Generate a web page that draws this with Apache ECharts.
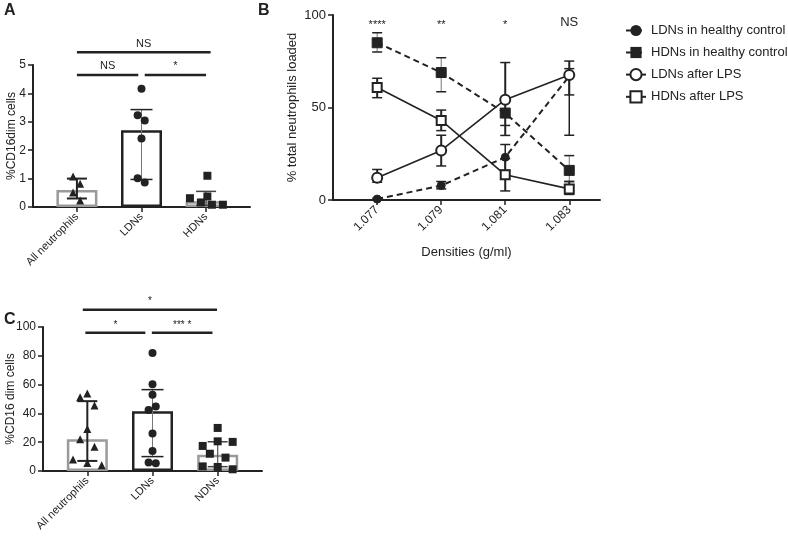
<!DOCTYPE html>
<html><head><meta charset="utf-8">
<script src="https://cdn.jsdelivr.net/npm/echarts@6/dist/echarts.min.js"></script>
<style>html,body{margin:0;padding:0;background:#fff}#c{width:788px;height:538px}</style>
</head><body><div id="c"></div>
<script>
// ---------- Panel A ----------
const aCategories = ['All neutrophils', 'LDNs', 'HDNs'];
const aBars = [0.6, 2.7, 0.2];
const aErrLow = [0.3, 0.97, 0.06];
const aErrHigh = [1.0, 3.43, 0.55];
const aAllOffsets = [-0.06, 0.05, -0.06, 0.05];
const aAllValues = [1.07, 0.82, 0.51, 0.23];
const aLdnOffsets = [0, -0.06, 0.05, 0, -0.06, 0.05];
const aLdnValues = [4.16, 3.23, 3.05, 2.41, 1.01, 0.86];
const aHdnOffsets = [-0.25, -0.08, 0.02, 0.02, 0.09, 0.26];
const aHdnValues = [0.31, 0.16, 0.37, 1.1, 0.08, 0.08];
const aSigFrom = [0, 0, 1.05];
const aSigTo = [2.07, 0.95, 2.0];
const aSigLevel = [5.45, 4.65, 4.65];
const aSigText = ['NS', 'NS', '*'];

// ---------- Panel B ----------
const bDensities = ['1.077', '1.079', '1.081', '1.083'];
const bLdnHealthy = [0.5, 7.8, 23.1, 67];
const bLdnHealthyLow = [0, 6, 16, 35];
const bLdnHealthyHigh = [1, 10, 30, 71];
const bHdnHealthy = [85, 68.9, 47, 16];
const bHdnHealthyLow = [80, 58.5, 40.3, 10];
const bHdnHealthyHigh = [90.4, 76.9, 53.7, 24];
const bLdnLps = [12, 26.8, 54.2, 67.6];
const bLdnLpsLow = [9.6, 18.4, 34.9, 56.8];
const bLdnLpsHigh = [16.5, 35, 74.3, 75.1];
const bHdnLps = [60.8, 43, 13.6, 6];
const bHdnLpsLow = [55.3, 37.5, 4.9, 3];
const bHdnLpsHigh = [65.8, 48.6, 22.3, 10];
const bSigText = ['****', '**', '*', 'NS'];
const bSeriesNames = ['LDNs in healthy control', 'HDNs in healthy control', 'LDNs after LPS', 'HDNs after LPS'];

// ---------- Panel C ----------
const cCategories = ['All neutrophils', 'LDNs', 'NDNs'];
const cBars = [22, 41.5, 11.2];
const cErrLow = [7, 10, 3];
const cErrHigh = [48.5, 56.5, 20.3];
const cAllOffsets = [-0.11, 0, 0.11, 0, -0.11, 0.11, -0.22, 0, 0.22];
const cAllValues = [51.3, 53.9, 45.5, 29.1, 22.1, 16.8, 8.0, 5.5, 4.0];
const cLdnOffsets = [0, 0, 0, 0.05, -0.06, 0, 0, -0.06, 0.05];
const cLdnValues = [81.9, 60.3, 52.9, 44.8, 42.3, 26, 13.9, 5.9, 5.3];
const cNdnOffsets = [0, 0, 0.23, -0.23, -0.12, 0.12, -0.23, 0, 0.23];
const cNdnValues = [29.9, 20.6, 20.2, 17.4, 12, 9.3, 3.2, 2.8, 1.2];
const cSigFrom = [-0.07, -0.03, 0.99];
const cSigTo = [1.99, 0.89, 1.92];
const cSigLevel = [112, 96, 96];
const cSigText = ['*', '*', '*** *'];

const FONT = '"Liberation Sans", Arial, sans-serif';
const INK = '#222';
const GREY = '#9a9a9a';

function pts(cat, offsets, values) { return values.map((v, i) => [cat + offsets[i], v]); }

function errSeries(gi, items, capHalf, color, width, capColor, capWidth) {
  return {
    type: 'custom', xAxisIndex: gi, yAxisIndex: gi, clip: false, silent: true, z: 3,
    encode: { x: 0, y: [1, 2] },
    data: items,
    renderItem(params, api) {
      const x = api.value(0), lo = api.value(1), hi = api.value(2);
      const p1 = api.coord([x, lo]), p2 = api.coord([x, hi]);
      return { type: 'group', children: [
        { type: 'line', shape: { x1: p1[0], y1: p1[1], x2: p2[0], y2: p2[1] }, style: { stroke: color, lineWidth: width } },
        { type: 'line', shape: { x1: p1[0] - capHalf, y1: p1[1], x2: p1[0] + capHalf, y2: p1[1] }, style: { stroke: capColor, lineWidth: capWidth } },
        { type: 'line', shape: { x1: p2[0] - capHalf, y1: p2[1], x2: p2[0] + capHalf, y2: p2[1] }, style: { stroke: capColor, lineWidth: capWidth } }
      ] };
    }
  };
}

function sigSeries(gi, from, to, level, texts, fontSize) {
  return {
    type: 'custom', xAxisIndex: gi, yAxisIndex: gi, clip: false, silent: true, z: 5,
    data: from.map((f, i) => [f, to[i], level[i]]),
    renderItem(params, api) {
      const a = api.coord([api.value(0), api.value(2)]);
      const b = api.coord([api.value(1), api.value(2)]);
      return { type: 'group', children: [
        { type: 'line', shape: { x1: a[0], y1: a[1], x2: b[0], y2: a[1] }, style: { stroke: INK, lineWidth: 2.5 } },
        { type: 'text', style: { text: texts[params.dataIndex], x: (a[0] + b[0]) / 2, y: a[1] - 3, align: 'center', verticalAlign: 'bottom', fontSize: fontSize, fontFamily: FONT, fill: INK } }
      ] };
    }
  };
}

function barSeries(gi, values, colors, width) {
  return {
    type: 'bar', xAxisIndex: gi, yAxisIndex: gi, barWidth: width, silent: true, z: 1,
    data: values.map((v, i) => ({ value: [i, v], itemStyle: { color: '#fff', borderColor: colors[i], borderWidth: 2.5 } }))
  };
}

function scatterSeries(gi, data, symbol, size) {
  return { type: 'scatter', xAxisIndex: gi, yAxisIndex: gi, symbol: symbol, symbolSize: size, silent: true, z: 4,
    itemStyle: { color: INK, opacity: 1 }, data: data };
}

function catXAxis(gi, cats, min, max, fontSize) {
  const vals = cats.map((c, i) => i);
  return {
    gridIndex: gi, type: 'value', min: min, max: max, splitLine: { show: false },
    axisLine: { show: true, onZero: false, lineStyle: { color: INK, width: 2 } },
    axisTick: { show: true, customValues: vals, length: 5, lineStyle: { color: INK, width: 1.5 } },
    axisLabel: { customValues: vals, formatter: v => cats[Math.round(v)], rotate: 45, fontSize: fontSize, color: INK, fontFamily: FONT, margin: 8 }
  };
}

function valYAxis(gi, min, max, interval, name, nameGap, fontSize) {
  return {
    gridIndex: gi, type: 'value', min: min, max: max, interval: interval, splitLine: { show: false },
    name: name, nameLocation: 'middle', nameGap: nameGap, nameMoveOverlap: false,
    nameTextStyle: { fontSize: fontSize, color: INK, fontFamily: FONT },
    axisLine: { show: true, onZero: false, lineStyle: { color: INK, width: 2 } },
    axisTick: { show: true, inside: false, length: 5, lineStyle: { color: INK, width: 1.5 } },
    axisLabel: { fontSize: fontSize, color: INK, fontFamily: FONT, margin: 7 }
  };
}

const chart = echarts.init(document.getElementById('c'), null, { renderer: 'canvas' });

const dashed = { type: [6, 4], width: 2, color: INK };
const solid = { type: 'solid', width: 1.6, color: INK };

const option = {
  animation: false,
  backgroundColor: '#fff',
  textStyle: { fontFamily: FONT },
  graphic: [
    { type: 'text', left: 4, top: 3, style: { text: 'A', fontSize: 16, fontWeight: 'bold', fill: INK, fontFamily: FONT } },
    { type: 'text', left: 258, top: 3, style: { text: 'B', fontSize: 16, fontWeight: 'bold', fill: INK, fontFamily: FONT } },
    { type: 'text', left: 4, top: 312, style: { text: 'C', fontSize: 16, fontWeight: 'bold', fill: INK, fontFamily: FONT } }
  ],
  legend: {
    orient: 'vertical', left: 620, top: 19, itemGap: 9, itemWidth: 20, itemHeight: 14,
    textStyle: { fontSize: 13, color: INK, fontFamily: FONT },
    data: bSeriesNames
  },
  grid: [
    { left: 33, top: 65, width: 217, height: 142 },
    { left: 333, top: 15, width: 267, height: 185 },
    { left: 43, top: 327, width: 219, height: 144 }
  ],
  xAxis: [
    catXAxis(0, aCategories, -0.68, 2.68, 11),
    {
      gridIndex: 1, type: 'value', min: -0.69, max: 3.48, splitLine: { show: false },
      name: 'Densities (g/ml)', nameLocation: 'middle', nameGap: 46,
      nameTextStyle: { fontSize: 13, color: INK, fontFamily: FONT },
      axisLine: { show: true, onZero: false, lineStyle: { color: INK, width: 2 } },
      axisTick: { show: true, customValues: [0, 1, 2, 3], length: 5, lineStyle: { color: INK, width: 1.5 } },
      axisLabel: { customValues: [0, 1, 2, 3], formatter: v => bDensities[Math.round(v)], rotate: 45, fontSize: 12, color: INK, fontFamily: FONT, margin: 8 }
    },
    catXAxis(2, cCategories, -0.68, 2.68, 11)
  ],
  yAxis: [
    valYAxis(0, 0, 5, 1, '%CD16dim cells', 15, 12),
    valYAxis(1, 0, 100, 50, '% total neutrophils loaded', 34, 13),
    valYAxis(2, 0, 100, 20, '%CD16 dim cells', 26, 12)
  ],
  series: [
    // Panel A
    barSeries(0, aBars, [GREY, INK, GREY], 41),
    errSeries(0, [[0, aErrLow[0], aErrHigh[0]]], 10, INK, 2, INK, 2),
    errSeries(0, [[1, aErrLow[1], aErrHigh[1]]], 11, '#777', 1, INK, 1.5),
    errSeries(0, [[2, aErrLow[2], aErrHigh[2]]], 10, '#555', 1.2, '#444', 1.5),
    scatterSeries(0, pts(0, aAllOffsets, aAllValues), 'triangle', 8),
    scatterSeries(0, pts(1, aLdnOffsets, aLdnValues), 'circle', 8),
    scatterSeries(0, pts(2, aHdnOffsets, aHdnValues), 'rect', 8),
    sigSeries(0, aSigFrom, aSigTo, aSigLevel, aSigText, 11),

    // Panel B error bars
    errSeries(1, bLdnHealthy.map((v, i) => [i, bLdnHealthyLow[i], bLdnHealthyHigh[i]]), 5, INK, 1.5, INK, 1.5),
    errSeries(1, bHdnHealthy.map((v, i) => [i, bHdnHealthyLow[i], bHdnHealthyHigh[i]]), 5, '#777', 1, INK, 1.5),
    errSeries(1, bLdnLps.map((v, i) => [i, bLdnLpsLow[i], bLdnLpsHigh[i]]), 5, INK, 2, INK, 1.5),
    errSeries(1, bHdnLps.map((v, i) => [i, bHdnLpsLow[i], bHdnLpsHigh[i]]), 5, INK, 2, INK, 1.5),
    // Panel B lines
    { name: bSeriesNames[0], type: 'line', xAxisIndex: 1, yAxisIndex: 1, z: 5, clip: false,
      data: bLdnHealthy.map((v, i) => [i, v]), symbol: 'circle', symbolSize: 8,
      lineStyle: dashed, itemStyle: { color: INK, borderColor: INK } },
    { name: bSeriesNames[1], type: 'line', xAxisIndex: 1, yAxisIndex: 1, z: 5, clip: false,
      data: bHdnHealthy.map((v, i) => [i, v]), symbol: 'rect', symbolSize: 10,
      lineStyle: dashed, itemStyle: { color: INK, borderColor: INK } },
    { name: bSeriesNames[2], type: 'line', xAxisIndex: 1, yAxisIndex: 1, z: 6, clip: false,
      data: bLdnLps.map((v, i) => [i, v]), symbol: 'circle', symbolSize: 10, showAllSymbol: true,
      lineStyle: solid, itemStyle: { color: '#fff', borderColor: INK, borderWidth: 2 } },
    { name: bSeriesNames[3], type: 'line', xAxisIndex: 1, yAxisIndex: 1, z: 6, clip: false,
      data: bHdnLps.map((v, i) => [i, v]), symbol: 'rect', symbolSize: 9,
      lineStyle: solid, itemStyle: { color: '#fff', borderColor: INK, borderWidth: 2 } },
    // Panel B significance labels
    { type: 'custom', xAxisIndex: 1, yAxisIndex: 1, clip: false, silent: true, z: 7,
      data: bSigText.map((t, i) => [i, 97]),
      renderItem(params, api) {
        const p = api.coord([api.value(0), api.value(1)]);
        const isNS = bSigText[params.dataIndex] === 'NS';
        return { type: 'text', style: { text: bSigText[params.dataIndex], x: p[0], y: p[1] + (isNS ? 2 : 4), align: 'center', verticalAlign: 'middle',
          fontSize: isNS ? 13 : 11, fontFamily: FONT, fill: INK } };
      } },

    // Panel C
    barSeries(2, cBars, [GREY, INK, GREY], 41),
    errSeries(2, [[0, cErrLow[0], cErrHigh[0]]], 10, INK, 2, INK, 2),
    errSeries(2, [[1, cErrLow[1], cErrHigh[1]]], 11, '#777', 1, INK, 1.5),
    errSeries(2, [[2, cErrLow[2], cErrHigh[2]]], 10, '#555', 1.2, '#444', 1.5),
    scatterSeries(2, pts(0, cAllOffsets, cAllValues), 'triangle', 8),
    scatterSeries(2, pts(1, cLdnOffsets, cLdnValues), 'circle', 8),
    scatterSeries(2, pts(2, cNdnOffsets, cNdnValues), 'rect', 8),
    sigSeries(2, cSigFrom, cSigTo, cSigLevel, cSigText, 10)
  ]
};
chart.setOption(option);
</script></body></html>
